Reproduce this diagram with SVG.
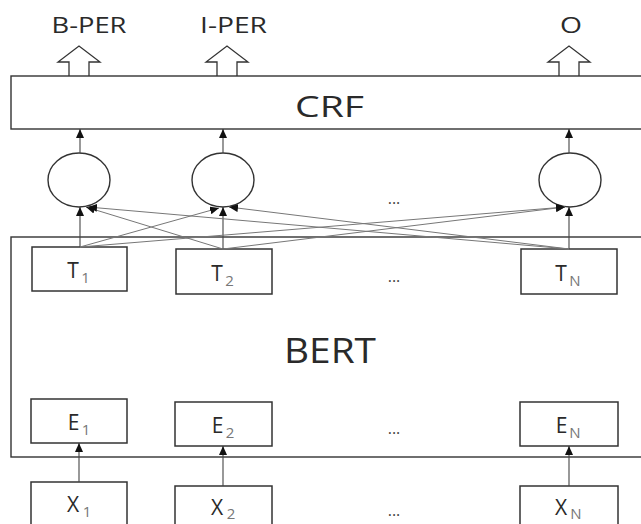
<svg xmlns="http://www.w3.org/2000/svg" width="641" height="524" viewBox="0 0 641 524">
<style>
.box{fill:#fff;stroke:#333;stroke-width:1.5}
.big{fill:#fff;stroke:#333;stroke-width:1.4}
.cir{fill:#fff;stroke:#333;stroke-width:1.4}
.hol{fill:#fff;stroke:#333;stroke-width:1.3}
.v{stroke:#444;stroke-width:1.1;fill:none}
.d{stroke:#777;stroke-width:1;fill:none}
text{font-family:"Open Sans","DejaVu Sans",sans-serif;fill:#2a2a2a;text-anchor:middle}
.lab{font-size:21px}
.m{font-size:21px}
.s{font-size:15px;fill:#777}
.dots{font-size:16px;fill:#444}
</style>
<defs>
<marker id="ah" markerUnits="userSpaceOnUse" markerWidth="9" markerHeight="8" refX="9" refY="4" orient="auto">
<path d="M0,0 L9,4 L0,8 z" fill="#111"/>
</marker>
</defs>

<g id="outputs">
<text class="lab" x="89" y="33" textLength="75" lengthAdjust="spacingAndGlyphs">B-PER</text>
<text class="lab" x="233.5" y="33" textLength="67" lengthAdjust="spacingAndGlyphs">I-PER</text>
<text class="lab" x="571" y="33" textLength="22" lengthAdjust="spacingAndGlyphs">O</text>
<polyline class="hol" points="69,77 69,62 58,62 79,46 100,62 89,62 89,77"/>
<polyline class="hol" points="217,77 217,62 206,62 227,46 248,62 237,62 237,77"/>
<polyline class="hol" points="559,77 559,62 548,62 569,46 590,62 579,62 579,77"/>
</g>

<g id="crf">
<rect class="big" x="11" y="76" width="645" height="53"/>
<text x="329.5" y="117" style="font-size:29px" textLength="69" lengthAdjust="spacingAndGlyphs">CRF</text>
</g>

<g id="bert">
<rect class="big" x="11" y="237" width="645" height="220"/>
<text x="330" y="363" style="font-size:35px" textLength="92" lengthAdjust="spacingAndGlyphs">BERT</text>
</g>

<g id="h1"><ellipse class="cir" cx="79" cy="180" rx="31" ry="27"/></g>
<g id="h2"><ellipse class="cir" cx="223" cy="180" rx="31" ry="27"/></g>
<g id="hN"><ellipse class="cir" cx="570" cy="180" rx="31" ry="27"/></g>
<g id="hdots"><text class="dots" x="394" y="204">...</text></g>

<g id="T1"><rect class="box" x="32" y="247" width="95" height="44"/><text class="m" x="73" y="278">T</text><text class="s" x="85.5" y="283">1</text></g>
<g id="T2"><rect class="box" x="176" y="249" width="96" height="45"/><text class="m" x="217" y="281">T</text><text class="s" x="229.5" y="286">2</text></g>
<g id="TN"><rect class="box" x="521" y="249" width="96" height="45"/><text class="m" x="561" y="281">T</text><text class="s" x="575" y="286">N</text></g>
<g id="Tdots"><text class="dots" x="394" y="282">...</text></g>

<g id="E1"><rect class="box" x="31" y="399" width="96" height="44"/><text class="m" x="73.5" y="430">E</text><text class="s" x="86" y="435">1</text></g>
<g id="E2"><rect class="box" x="175" y="402" width="97" height="44"/><text class="m" x="217.5" y="433">E</text><text class="s" x="230" y="438">2</text></g>
<g id="EN"><rect class="box" x="520" y="402" width="98" height="44"/><text class="m" x="561.5" y="433">E</text><text class="s" x="575" y="438">N</text></g>
<g id="Edots"><text class="dots" x="394" y="434">...</text></g>

<g id="X1"><rect class="box" x="31" y="482" width="96" height="60"/><text class="m" x="73" y="512">X</text><text class="s" x="87" y="517">1</text></g>
<g id="X2"><rect class="box" x="175" y="486" width="97" height="60"/><text class="m" x="217" y="515">X</text><text class="s" x="231" y="519">2</text></g>
<g id="XN"><rect class="box" x="520" y="486" width="98" height="60"/><text class="m" x="561" y="515">X</text><text class="s" x="576" y="519">N</text></g>
<g id="Xdots"><text class="dots" x="394" y="516">...</text></g>

<g id="connectors">
<line class="v" x1="79" y1="482" x2="79" y2="443" marker-end="url(#ah)"/>
<line class="v" x1="223" y1="486" x2="223" y2="446" marker-end="url(#ah)"/>
<line class="v" x1="569" y1="486" x2="569" y2="446" marker-end="url(#ah)"/>

<line class="v" x1="80" y1="247" x2="80" y2="207" marker-end="url(#ah)"/>
<line class="v" x1="223" y1="249" x2="223" y2="207" marker-end="url(#ah)"/>
<line class="v" x1="569" y1="249" x2="569" y2="207" marker-end="url(#ah)"/>

<line class="d" x1="80" y1="247" x2="219" y2="208" marker-end="url(#ah)"/>
<line class="d" x1="80" y1="247" x2="565" y2="207" marker-end="url(#ah)"/>
<line class="d" x1="223" y1="249" x2="86" y2="207" marker-end="url(#ah)"/>
<line class="d" x1="223" y1="249" x2="565" y2="207" marker-end="url(#ah)"/>
<line class="d" x1="569" y1="249" x2="88" y2="207" marker-end="url(#ah)"/>
<line class="d" x1="569" y1="249" x2="229" y2="207" marker-end="url(#ah)"/>

<line class="v" x1="80" y1="153" x2="80" y2="129" marker-end="url(#ah)"/>
<line class="v" x1="223" y1="153" x2="223" y2="129" marker-end="url(#ah)"/>
<line class="v" x1="569" y1="153" x2="569" y2="129" marker-end="url(#ah)"/>
</g>
</svg>
